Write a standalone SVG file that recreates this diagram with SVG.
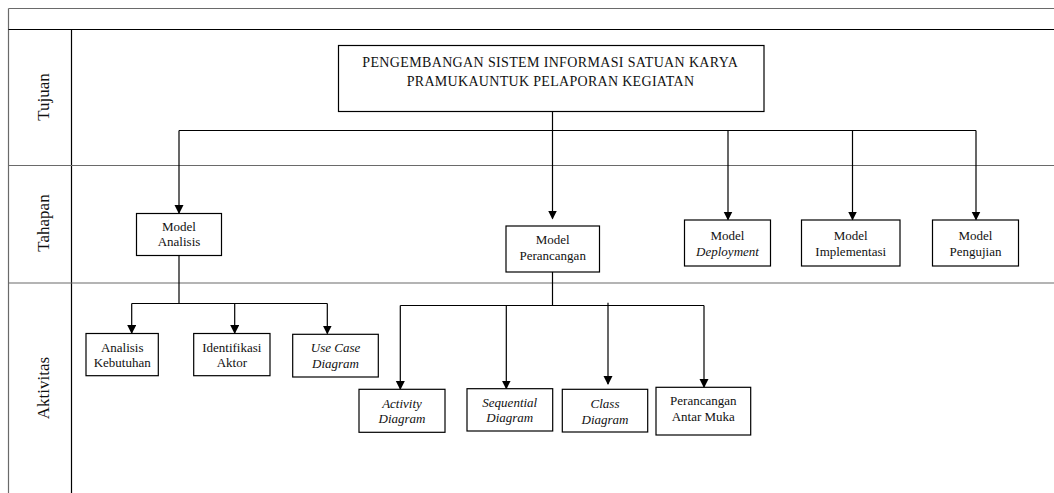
<svg xmlns="http://www.w3.org/2000/svg" width="1054" height="493" viewBox="0 0 1054 493">
<style>
.frame{stroke:#6a6a6a;stroke-width:1.2;fill:none}
.frameb{stroke:#000;stroke-width:1.2;fill:none}
.box{fill:#fff;stroke:#000;stroke-width:1.2}
.conn{stroke:#000;stroke-width:1.2;fill:none}
.t{font-family:"Liberation Serif","Times New Roman",serif;font-size:13px;fill:#111;text-anchor:middle}
.i{font-style:italic}
.lane{font-family:"Liberation Serif","Times New Roman",serif;font-size:17px;fill:#111;text-anchor:middle}
.title{font-family:"Liberation Serif","Times New Roman",serif;font-size:14px;fill:#111}
</style>
<defs>
<marker id="ah" markerWidth="10" markerHeight="10" refX="8" refY="4.5" orient="auto" markerUnits="userSpaceOnUse">
<path d="M0,0 L9,4.5 L0,9 Z" fill="#000"/>
</marker>
</defs>
<rect x="0" y="0" width="1054" height="493" fill="#fff"/>
<g id="lanes">
<line class="frame" x1="8.5" y1="8.5" x2="1054" y2="8.5"/>
<line class="frame" x1="8.5" y1="8.5" x2="8.5" y2="493"/>
<line class="frameb" x1="8.5" y1="29.5" x2="1054" y2="29.5"/>
<line class="frameb" x1="71.5" y1="29.5" x2="71.5" y2="493"/>
<line class="frame" x1="8.5" y1="165.5" x2="1054" y2="165.5"/>
<line class="frame" x1="8.5" y1="283" x2="1054" y2="283"/>
<text class="lane" transform="translate(49,97) rotate(-90)">Tujuan</text>
<text class="lane" transform="translate(49,223) rotate(-90)">Tahapan</text>
<text class="lane" transform="translate(49,388) rotate(-90)">Aktivitas</text>
</g>
<g id="connectors">
<polyline class="conn" points="552.5,111.5 552.5,130.5"/>
<polyline class="conn" points="179,130.5 976,130.5"/>
<line class="conn" x1="179" y1="130.5" x2="179" y2="213" marker-end="url(#ah)"/>
<line class="conn" x1="552.5" y1="130.5" x2="552.5" y2="218.5" marker-end="url(#ah)"/>
<line class="conn" x1="728" y1="130.5" x2="728" y2="219.5" marker-end="url(#ah)"/>
<line class="conn" x1="852.5" y1="130.5" x2="852.5" y2="219.5" marker-end="url(#ah)"/>
<line class="conn" x1="976" y1="130.5" x2="976" y2="219.5" marker-end="url(#ah)"/>
<polyline class="conn" points="179,256 179,303.5"/>
<polyline class="conn" points="131.7,303.5 327.3,303.5"/>
<line class="conn" x1="131.7" y1="303.5" x2="131.7" y2="333" marker-end="url(#ah)"/>
<line class="conn" x1="234.7" y1="303.5" x2="234.7" y2="333" marker-end="url(#ah)"/>
<line class="conn" x1="327.3" y1="303.5" x2="327.3" y2="333.5" marker-end="url(#ah)"/>
<polyline class="conn" points="552.5,272 552.5,305.5"/>
<polyline class="conn" points="400.3,305.5 704,305.5"/>
<line class="conn" x1="400.3" y1="305.5" x2="400.3" y2="389" marker-end="url(#ah)"/>
<line class="conn" x1="506.3" y1="305.5" x2="506.3" y2="388.5" marker-end="url(#ah)"/>
<line class="conn" x1="608" y1="302.7" x2="608" y2="384" marker-end="url(#ah)"/>
<line class="conn" x1="704" y1="305.5" x2="704" y2="387" marker-end="url(#ah)"/>
</g>
<g id="tujuan">
<rect class="box" x="338.5" y="45.5" width="425.5" height="66"/>
<text class="title" x="362.3" y="67.3" textLength="375.5" lengthAdjust="spacing">PENGEMBANGAN SISTEM INFORMASI SATUAN KARYA</text>
<text class="title" x="406.7" y="86" textLength="287.3" lengthAdjust="spacing">PRAMUKAUNTUK PELAPORAN KEGIATAN</text>
</g>
<g id="model-analisis">
<rect class="box" x="136.5" y="213.5" width="85" height="42"/>
<text class="t" x="179" y="230.5">Model</text>
<text class="t" x="179" y="246">Analisis</text>
</g>
<g id="model-perancangan">
<rect class="box" x="506" y="226" width="93.5" height="46"/>
<text class="t" x="552.7" y="243.5">Model</text>
<text class="t" x="552.7" y="259.5">Perancangan</text>
</g>
<g id="model-deployment">
<rect class="box" x="684.5" y="220" width="86" height="46"/>
<text class="t" x="727.5" y="240">Model</text>
<text class="t i" x="727.5" y="256">Deployment</text>
</g>
<g id="model-implementasi">
<rect class="box" x="801.5" y="220" width="98.5" height="46"/>
<text class="t" x="850.7" y="240">Model</text>
<text class="t" x="850.7" y="256">Implementasi</text>
</g>
<g id="model-pengujian">
<rect class="box" x="932.5" y="220" width="86" height="46"/>
<text class="t" x="975.5" y="240">Model</text>
<text class="t" x="975.5" y="256">Pengujian</text>
</g>
<g id="analisis-kebutuhan">
<rect class="box" x="86" y="333.5" width="72.3" height="42.2"/>
<text class="t" x="122.2" y="351.5">Analisis</text>
<text class="t" x="122.2" y="367.3">Kebutuhan</text>
</g>
<g id="identifikasi-aktor">
<rect class="box" x="193.7" y="333.5" width="76.3" height="42.2"/>
<text class="t" x="231.8" y="351.5">Identifikasi</text>
<text class="t" x="231.8" y="367.3">Aktor</text>
</g>
<g id="use-case-diagram">
<rect class="box" x="292.7" y="334.3" width="85.6" height="42.7"/>
<text class="t i" x="335.5" y="352">Use Case</text>
<text class="t i" x="335.5" y="368">Diagram</text>
</g>
<g id="activity-diagram">
<rect class="box" x="359" y="389.3" width="86" height="43"/>
<text class="t i" x="402" y="407.5">Activity</text>
<text class="t i" x="402" y="423">Diagram</text>
</g>
<g id="sequential-diagram">
<rect class="box" x="467" y="388.7" width="85.7" height="42.3"/>
<text class="t i" x="509.8" y="406.5">Sequential</text>
<text class="t i" x="509.8" y="422">Diagram</text>
</g>
<g id="class-diagram">
<rect class="box" x="562.3" y="389.3" width="85.4" height="42.7"/>
<text class="t i" x="605" y="408">Class</text>
<text class="t i" x="605" y="423.5">Diagram</text>
</g>
<g id="perancangan-antar-muka">
<rect class="box" x="656" y="387.3" width="94.7" height="47.7"/>
<text class="t" x="703.3" y="405">Perancangan</text>
<text class="t" x="703.3" y="420.5">Antar Muka</text>
</g>
</svg>
